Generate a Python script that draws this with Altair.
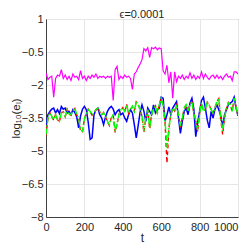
import altair as alt
import pandas as pd

t_vals = list(range(0, 1001, 10))

magenta = [-1.45, -1.75, -1.65, -1.6, -2.55, -1.7, -1.55, -1.6, -1.3, -1.7,
           -1.55, -1.75, -1.6, -1.8, -1.5, -1.65, -1.6, -1.75, -1.35, -1.7,
           -1.6, -1.8, -1.6, -1.7, -1.55, -1.65, -1.5, -1.7, -1.6, -1.65,
           -1.6, -1.7, -1.6, -1.65, -1.6, -2.7, -1.3, -1.15, -1.75, -1.6,
           -1.7, -1.55, -1.65, -1.6, -1.7, -2.2, -1.5, -1.4, -1.2, -1.05,
           -0.85, -0.35, -0.45, -0.3, -0.75, -0.3, -0.35, -0.28, -0.4, -0.32,
           -0.35, -1.36, -1.5, -1.1, -1.9, -1.4, -2.6, -1.4, -1.85, -1.6,
           -1.7, -1.55, -1.75, -1.6, -1.7, -1.45, -1.7, -1.55, -1.75, -1.6,
           -1.7, -1.4, -1.7, -1.5, -1.65, -1.75, -1.6, -1.55, -1.7, -1.55,
           -1.7, -1.6, -1.75, -1.6, -1.5, -1.65, -1.6, -1.8, -1.4, -1.4,
           -1.5]

blue = [-3.87, -3.35, -3.2, -3.1, -3.05, -3.27, -3.12, -3.3, -2.98, -3.1,
        -3.05, -3.27, -3.2, -3.35, -3.12, -3.25, -3.45, -3.95, -3.4, -3.1,
        -2.97, -3.12, -3.7, -4.47, -4.4, -3.35, -3.12, -3.05, -3.35, -3.5,
        -3.8, -3.45, -3.2, -3.05, -2.97, -3.1, -3.35, -3.2, -3.12, -3.35,
        -3.27, -3.5, -3.65, -3.35, -3.12, -3.27, -3.8, -4.4, -3.85, -3.25,
        -2.9, -3.2, -3.65, -3.05, -3.2, -3.35, -2.9, -3.27, -3.12, -3.05,
        -2.55, -2.6, -3.65, -3.35, -3.0, -3.35, -3.05, -2.9, -2.75, -3.5,
        -4.2, -3.65, -3.2, -3.05, -3.35, -2.82, -2.6, -3.1, -4.35, -3.7,
        -3.2, -2.7, -2.55, -3.05, -3.6, -3.95, -3.2, -3.5, -3.1, -2.9,
        -3.12, -3.4, -3.9, -3.35, -3.12, -2.9, -2.82, -2.75, -2.55, -3.05,
        -3.4]

green = [-4.25, -3.5, -3.27, -3.42, -3.57, -3.35, -3.57, -3.65, -3.27, -3.2,
         -3.42, -3.12, -3.3, -3.35, -3.2, -3.05, -3.35, -3.5, -4.05, -4.1,
         -3.55, -3.27, -3.12, -3.2, -3.35, -3.27, -3.12, -3.05, -3.2, -3.35,
         -3.27, -3.42, -3.65, -3.8, -3.5, -3.35, -4.1, -3.8, -3.35, -3.12,
         -3.05, -3.2, -2.9, -3.27, -3.12, -2.97, -3.2, -2.75, -2.9, -3.1,
         -3.4, -4.1, -3.5, -3.12, -3.95, -3.35, -3.05, -2.97, -3.27, -2.9,
         -2.6, -2.9, -3.65, -4.85, -3.95, -3.35, -3.05, -3.2, -2.9, -3.35,
         -3.87, -3.5, -3.05, -2.9, -3.2, -2.9, -2.75, -3.3, -3.6, -4.05,
         -3.3, -2.8, -3.2, -3.1, -2.8, -2.9, -3.12, -3.27, -3.05, -2.75,
         -2.6, -3.5, -4.1, -3.5, -3.05, -2.82, -2.9, -3.2, -2.6, -3.0,
         -3.35]

red = [-4.3, -3.52, -3.25, -3.44, -3.6, -3.33, -3.58, -3.68, -3.25, -3.22,
       -3.44, -3.1, -3.32, -3.37, -3.18, -3.07, -3.36, -3.52, -4.1, -4.12,
       -3.53, -3.29, -3.1, -3.22, -3.37, -3.25, -3.14, -3.03, -3.22, -3.37,
       -3.25, -3.44, -3.67, -3.84, -3.48, -3.37, -4.15, -3.78, -3.33, -3.14,
       -3.03, -3.22, -2.88, -3.29, -3.1, -2.99, -3.18, -2.77, -2.88, -3.12,
       -3.42, -4.15, -3.48, -3.14, -4.0, -3.33, -3.07, -2.95, -3.29, -2.88,
       -2.62, -2.92, -3.7, -5.55, -4.0, -3.33, -3.07, -3.18, -2.92, -3.33,
       -3.92, -3.48, -3.07, -2.88, -3.22, -2.88, -2.77, -3.28, -3.62, -4.12,
       -3.28, -2.82, -3.18, -3.12, -2.78, -2.92, -3.1, -3.29, -3.03, -2.77,
       -2.62, -3.55, -4.25, -3.48, -3.07, -2.8, -2.92, -3.18, -2.62, -3.02,
       -3.37]

y_ticks = [-8, -6.5, -5, -3.5, -2, -0.5, 1]
x_ticks = [0, 200, 400, 600, 800, 1000]

FONT = "Liberation Sans"

def frame(vals, name):
    return pd.DataFrame({"t": t_vals, "v": vals, "s": name})

x_enc = alt.X("t:Q", scale=alt.Scale(domain=[0, 1000], nice=False),
              axis=alt.Axis(
                  values=x_ticks, title="t", format="d",
                  labelAlign={"condition": {"test": "datum.value == 1000", "value": "right"},
                              "value": "center"},
              ))
y_enc = alt.Y("v:Q", scale=alt.Scale(domain=[-8, 1], nice=False),
              axis=alt.Axis(values=y_ticks, title="log₁₀(eₗ)", format=".1~f"))

def layer(vals, name, color, width, dash=None):
    kw = dict(color=color, strokeWidth=width, clip=True)
    if dash:
        kw["strokeDash"] = dash
    return alt.Chart(frame(vals, name)).mark_line(**kw).encode(x=x_enc, y=y_enc)

chart = alt.layer(
    layer(magenta, "m", "#FF00FF", 1.2),
    layer(blue, "b", "#0000FF", 1.5),
    layer(red, "r", "#FF0000", 1.4, [4, 3]),
    layer(green, "g", "#00FF00", 1.5, [6, 2, 1.5, 2]),
).properties(
    width=192, height=198,
    title=alt.TitleParams("ϵ=0.0001", fontSize=11, fontWeight="normal",
                          font=FONT, color="#262626", offset=-6.5,
                          frame="group", anchor="middle"),
    autosize=alt.AutoSizeParams(type="none"),
    padding={"left": 38, "top": 11, "right": 5, "bottom": 26},
).configure_view(
    stroke="#808080", strokeWidth=1
).configure_axis(
    grid=True, gridColor="#e6e6e6", gridWidth=1,
    domainColor="#404040", domainWidth=1,
    ticks=False, labelFlush=False, labelOverlap=False,
    labelFont=FONT, labelFontSize=11, labelColor="#262626",
    titleFont=FONT, titleFontSize=12, titleColor="#262626",
    titleFontWeight="normal",
).configure_axisX(
    labelPadding=4, titlePadding=0
).configure_axisY(
    labelPadding=3, titlePadding=0, titleFontSize=11.5
)

chart.save("out.html", embed_options={"renderer": "svg", "actions": False})
